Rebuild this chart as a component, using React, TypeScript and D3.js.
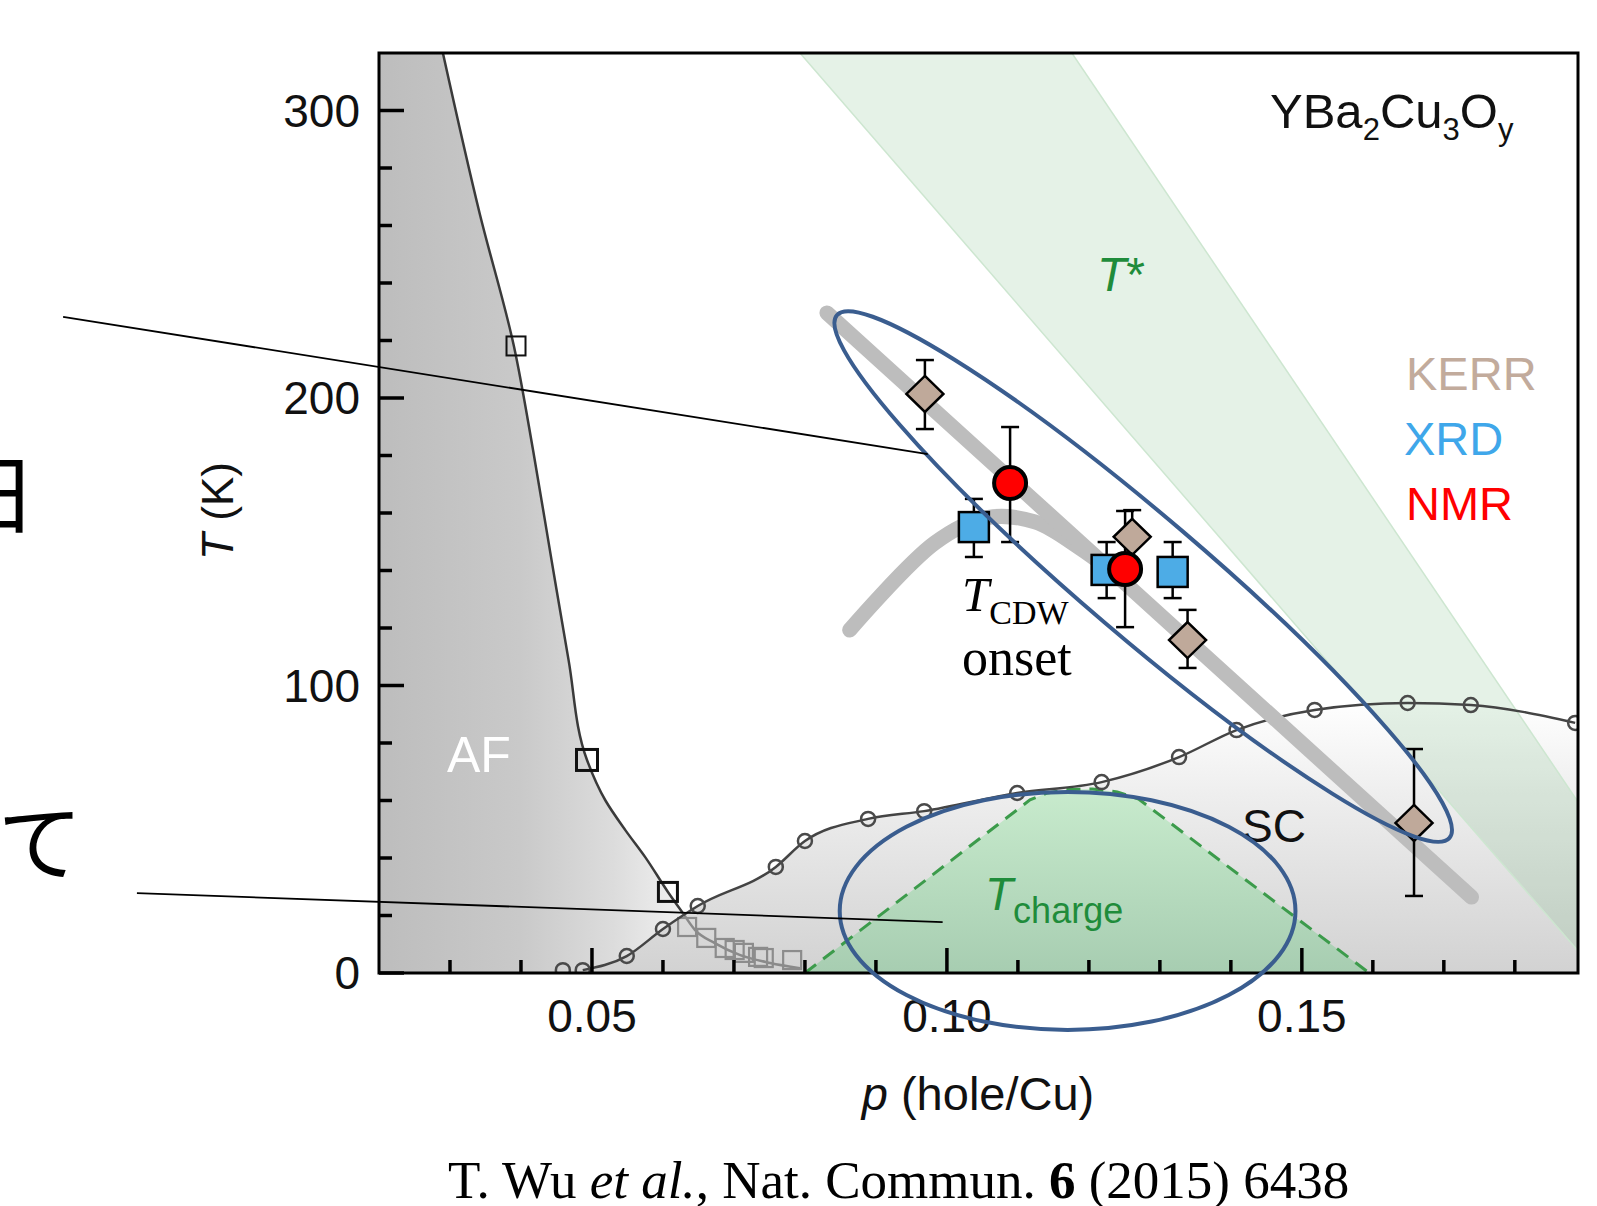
import * as d3 from 'd3';

// ---- values (p in hole/Cu, T in K) ----

// superconducting dome, open circles
const scDoping = [0.0459, 0.0487, 0.0549, 0.06, 0.0649, 0.0759, 0.08, 0.0889, 0.0968, 0.1099, 0.1218, 0.1327, 0.1408, 0.1518, 0.1649, 0.1738, 0.1885];
const scTc = [1.0, 1.0, 5.9, 15.3, 23.3, 36.9, 45.9, 53.6, 56.3, 62.6, 66.4, 75.1, 84.5, 91.5, 93.9, 93.2, 87.0];

// Neel line (black) and its low-T tail (grey)
const afDoping = [0.029, 0.0342, 0.039, 0.0417, 0.0443, 0.0467, 0.0493, 0.0519, 0.0547, 0.0575, 0.0607, 0.0628];
const afTn = [320, 264.0, 218.1, 181.9, 143.7, 108.9, 74.1, 60.0, 49.7, 40.3, 28.2, 20.9];
const afTailDoping = [0.0628, 0.0645, 0.0673, 0.0708, 0.0751, 0.0793];
const afTailT = [20.9, 15.0, 10.4, 6.3, 3.5, 1.7];

const afSquareDoping = [0.0393, 0.0493, 0.0607];
const afSquareT = [218.1, 74.1, 28.2];
const afGreyDoping = [0.0634, 0.0661, 0.0687, 0.0701, 0.0714, 0.0734, 0.0742, 0.0782];
const afGreyT = [16.0, 12.2, 8.7, 8.0, 7.0, 5.6, 5.2, 4.5];

// T_charge dome (dashed green)
const chargeDoping = [0.08, 0.1117, 0.114, 0.117, 0.1205, 0.124, 0.127, 0.1595];
const chargeT = [0, 60.2, 62.5, 63.8, 64.0, 63.0, 60.5, 0];

// T* crossover band
const tStarLowerDoping = [0.0793, 0.1916];
const tStarUpperDoping = [0.1176, 0.2052];
const tStarT = [320, 0];

// T_CDW onset guide lines
const cdwMainDoping = [0.0831, 0.1739];
const cdwMainT = [229.6, 26.4];
const cdwBranchDoping = [0.0863, 0.0983, 0.1054, 0.1124, 0.1187, 0.1244];
const cdwBranchT = [119.3, 149.6, 158.3, 156.9, 147.8, 137.4];

// KERR / XRD / NMR points with error bars
const kerrDoping = [0.0969, 0.1261, 0.1339, 0.1658];
const kerrT = [201.4, 151.7, 115.8, 52.2];
const kerrHi = [213.2, 161.0, 126.3, 77.9];
const kerrLo = [189.2, 142.3, 106.1, 26.8];

const xrdDoping = [0.1038, 0.1225, 0.1318];
const xrdT = [155.1, 140.2, 139.5];
const xrdHi = [164.9, 149.9, 149.9];
const xrdLo = [144.7, 130.4, 130.4];

const nmrDoping = [0.1089, 0.1251];
const nmrT = [170.4, 140.5];
const nmrHi = [189.9, 160.7];
const nmrLo = [149.9, 120.3];

// axes
const yMajor = [0, 100, 200, 300];
const yMajorLabels = ['0', '100', '200', '300'];
const xMajor = [0.05, 0.1, 0.15];
const xMajorLabels = ['0.05', '0.10', '0.15'];

// ---- layout ----
const W = 1597;
const H = 1206;
const x = d3.scaleLinear().domain([0.02, 0.1889]).range([379, 1578]);
const y = d3.scaleLinear().domain([0, 320]).range([973, 53]);
const [x0, x1] = x.range();
const [yb, yt] = y.range();

const SANS = '"Liberation Sans", Arial, Helvetica, sans-serif';
const SERIF = '"Liberation Serif", "Times New Roman", serif';
const CJK = '"Noto Sans CJK JP", sans-serif';
const GREEN = '#1f8c3b';

const zip = (a: number[], b: number[]): [number, number][] => a.map((v, i) => [v, b[i]]);

const lineX = d3.line<[number, number]>().x((d) => x(d[0])).y((d) => y(d[1])).curve(d3.curveMonotoneX);
const lineY = d3.line<[number, number]>().x((d) => x(d[0])).y((d) => y(d[1])).curve(d3.curveMonotoneY);
const lineL = d3.line<[number, number]>().x((d) => x(d[0])).y((d) => y(d[1]));
const lineC = d3.line<[number, number]>().x((d) => x(d[0])).y((d) => y(d[1])).curve(d3.curveCatmullRom);

const ErrorBar = ({p, hi, lo}: {p: number; hi: number; lo: number}) => (
  <g stroke='#000' strokeWidth={2.5}>
    <line x1={x(p)} x2={x(p)} y1={y(hi)} y2={y(lo)} />
    <line x1={x(p) - 9} x2={x(p) + 9} y1={y(hi)} y2={y(hi)} />
    <line x1={x(p) - 9} x2={x(p) + 9} y1={y(lo)} y2={y(lo)} />
  </g>
);

const App = () => {
  const scPts = zip(scDoping, scTc);
  const afEdge = [...zip(afDoping, afTn), ...zip(afTailDoping, afTailT).slice(1)];
  const afFill =
    lineY(afEdge) +
    `L${x(afTailDoping[afTailDoping.length - 1])},${yb}L${x0},${yb}L${x0},${yt}Z`;
  const scFill =
    lineX(scPts) +
    `L${x1},${y(scTc[scTc.length - 1])}L${x1},${yb}L${x(scDoping[0])},${yb}Z`;

  const tStarBand = lineL([
    [tStarLowerDoping[0], tStarT[0]],
    [tStarUpperDoping[0], tStarT[0]],
    [tStarUpperDoping[1], tStarT[1]],
    [tStarLowerDoping[1], tStarT[1]],
  ]) + 'Z';

  // annotation ellipse 1: long axis between two tips, given in data units
  const tipA: [number, number] = [x(0.0845), y(228.8)];
  const tipB: [number, number] = [x(0.1708), y(47.0)];
  const e1cx = (tipA[0] + tipB[0]) / 2;
  const e1cy = (tipA[1] + tipB[1]) / 2;
  const e1rx = Math.hypot(tipB[0] - tipA[0], tipB[1] - tipA[1]) / 2;
  const e1ang = (Math.atan2(tipB[1] - tipA[1], tipB[0] - tipA[0]) * 180) / Math.PI;

  // annotation ellipse 2
  const e2c: [number, number] = [0.117, 21.6];
  const e2rx = x(e2c[0] + 0.0321) - x(e2c[0]);
  const e2ry = y(e2c[1]) - y(e2c[1] + 41.4);

  const minorY = d3.range(20, 320, 20).filter((v) => v % 100 !== 0);
  const minorX = d3.range(3, 19).map((i) => i / 100).filter((v) => Math.abs(v * 20 - Math.round(v * 20)) > 1e-6);

  return (
    <svg width={W} height={H} style={{position: 'fixed', left: 0, top: 0, background: '#fff'}} fontFamily={SANS}>
      <defs>
        <clipPath id='plot'>
          <rect x={x0} y={yt} width={x1 - x0} height={yb - yt} />
        </clipPath>
        <linearGradient id='afGrad' gradientUnits='userSpaceOnUse' x1={x0} x2={x(0.064)} y1={0} y2={0}>
          <stop offset='0' stopColor='#bdbdbd' />
          <stop offset='0.45' stopColor='#c9c9c9' />
          <stop offset='0.75' stopColor='#dcdcdc' />
          <stop offset='1' stopColor='#f3f3f3' />
        </linearGradient>
        <linearGradient id='scGrad' gradientUnits='userSpaceOnUse' x1={0} x2={0} y1={y(95)} y2={yb}>
          <stop offset='0' stopColor='#ffffff' />
          <stop offset='0.35' stopColor='#eeeeee' />
          <stop offset='1' stopColor='#d2d2d2' />
        </linearGradient>
        <linearGradient id='chGrad' gradientUnits='userSpaceOnUse' x1={0} x2={0} y1={y(64)} y2={yb}>
          <stop offset='0' stopColor='#c8ebcd' />
          <stop offset='1' stopColor='#a7cdb1' />
        </linearGradient>
      </defs>

      <g clipPath='url(#plot)'>
        <rect x={x0} y={yt} width={x1 - x0} height={yb - yt} fill='#fff' />
        <path d={afFill} fill='url(#afGrad)' />
        <path d={scFill} fill='url(#scGrad)' />

        {/* T* band */}
        <path d={tStarBand} fill='#5fae6b' fillOpacity={0.16} />
        <path d={lineL(zip(tStarLowerDoping, tStarT))!} fill='none' stroke='#cde6d0' strokeWidth={1.5} />
        <path d={lineL(zip(tStarUpperDoping, tStarT))!} fill='none' stroke='#cde6d0' strokeWidth={1.5} />

        {/* T_charge dome */}
        <path d={lineL(zip(chargeDoping, chargeT))!} fill='url(#chGrad)' />
        <path d={lineL(zip(chargeDoping, chargeT))!} fill='none' stroke='#3c9b4b' strokeWidth={3} strokeDasharray='14 9' />

        {/* AF line and tail */}
        <path d={lineX(zip(afTailDoping, afTailT))!} fill='none' stroke='#8a8a8a' strokeWidth={2.5} />
        {afGreyDoping.map((p, i) => (
          <rect key={i} x={x(p) - 9} y={y(afGreyT[i]) - 9} width={18} height={18} fill='none' stroke='#8c8c8c' strokeWidth={2.2} />
        ))}
        <path d={lineY(zip(afDoping, afTn))!} fill='none' stroke='#3a3a3a' strokeWidth={2.5} />
        {afSquareDoping.map((p, i) => {
          const s = i === 1 ? 21 : 19;
          return (
            <rect key={i} x={x(p) - s / 2} y={y(afSquareT[i]) - s / 2} width={s} height={s} fill='none' stroke='#111' strokeWidth={i === 0 ? 2 : 3} />
          );
        })}

        {/* SC dome */}
        <path d={lineX(scPts.slice(1))!} fill='none' stroke='#444' strokeWidth={2.5} />
        {scPts.map((d, i) => (
          <circle key={i} cx={x(d[0])} cy={y(d[1])} r={7} fill='none' stroke='#4a4a4a' strokeWidth={2.5} />
        ))}

        {/* T_CDW onset guides */}
        <g fill='none' stroke='#bdbdbd' strokeWidth={15} strokeLinecap='round'>
          <path d={lineC(zip(cdwBranchDoping, cdwBranchT))!} />
          <path d={lineL(zip(cdwMainDoping, cdwMainT))!} />
        </g>

        {/* error bars */}
        {xrdDoping.map((p, i) => <ErrorBar key={'xe' + i} p={p} hi={xrdHi[i]} lo={xrdLo[i]} />)}
        {kerrDoping.map((p, i) => <ErrorBar key={'ke' + i} p={p} hi={kerrHi[i]} lo={kerrLo[i]} />)}
        {nmrDoping.map((p, i) => <ErrorBar key={'ne' + i} p={p} hi={nmrHi[i]} lo={nmrLo[i]} />)}

        {/* markers */}
        {xrdDoping.map((p, i) => (
          <rect key={'x' + i} x={x(p) - 15} y={y(xrdT[i]) - 15} width={30} height={30} fill='#4dace6' stroke='#000' strokeWidth={2.5} />
        ))}
        {kerrDoping.map((p, i) => {
          const cx = x(p);
          const cy = y(kerrT[i]);
          return (
            <path key={'k' + i} d={`M${cx},${cy - 18}L${cx + 18.5},${cy}L${cx},${cy + 18}L${cx - 18.5},${cy}Z`} fill='#bfa99a' stroke='#000' strokeWidth={2.5} />
          );
        })}
        {nmrDoping.map((p, i) => (
          <circle key={'n' + i} cx={x(p)} cy={y(nmrT[i])} r={16} fill='#ff0000' stroke='#000' strokeWidth={4} />
        ))}

        {/* in-plot labels */}
        <text x={447} y={772} fontSize={50} fill='#fff'>AF</text>
        <text x={1242} y={842} fontSize={46} fill='#111'>SC</text>
        <text x={985} y={910} fontSize={46} fill={GREEN}>
          <tspan fontStyle='italic'>T</tspan>
          <tspan fontSize={36} dy={13}>charge</tspan>
        </text>
        <text x={1097} y={291} fontSize={48} fill={GREEN}>
          <tspan fontStyle='italic'>T</tspan>*
        </text>
        <text x={962} y={611} fontFamily={SERIF} fontSize={49} fill='#000'>
          <tspan fontStyle='italic'>T</tspan>
          <tspan fontSize={34} dy={13}>CDW</tspan>
        </text>
        <text x={962} y={675} fontFamily={SERIF} fontSize={52} fill='#000'>onset</text>
        <text x={1270} y={128} fontSize={49} fill='#111'>
          YBa<tspan fontSize={31} dy={12}>2</tspan>
          <tspan dy={-12}>Cu</tspan>
          <tspan fontSize={31} dy={12}>3</tspan>
          <tspan dy={-12}>O</tspan>
          <tspan fontSize={31} dy={12}>y</tspan>
        </text>
        <text x={1406} y={390} fontSize={47} fill='#c2ab9c'>KERR</text>
        <text x={1404} y={455} fontSize={47} fill='#3fa7ea'>XRD</text>
        <text x={1406} y={520} fontSize={47} fill='#ff0000'>NMR</text>
      </g>

      {/* frame and ticks */}
      <rect x={x0} y={yt} width={x1 - x0} height={yb - yt} fill='none' stroke='#000' strokeWidth={3} />
      <g stroke='#000' strokeWidth={3.5}>
        {yMajor.map((t) => <line key={'ym' + t} x1={x0} x2={x0 + 25} y1={y(t)} y2={y(t)} />)}
        {minorY.map((t) => <line key={'yn' + t} x1={x0} x2={x0 + 13} y1={y(t)} y2={y(t)} />)}
        {xMajor.map((t) => <line key={'xm' + t} x1={x(t)} x2={x(t)} y1={yb} y2={yb - 25} />)}
        {minorX.map((t) => <line key={'xn' + t} x1={x(t)} x2={x(t)} y1={yb} y2={yb - 13} />)}
      </g>
      {yMajor.map((t, i) => (
        <text key={'yl' + t} x={360} y={y(t) + 16} textAnchor='end' fontSize={46} fill='#111'>{yMajorLabels[i]}</text>
      ))}
      {xMajor.map((t, i) => (
        <text key={'xl' + t} x={x(t)} y={1032} textAnchor='middle' fontSize={46} fill='#111'>{xMajorLabels[i]}</text>
      ))}
      <text transform='translate(233,511) rotate(-90)' textAnchor='middle' fontSize={44} fill='#111'>
        <tspan fontStyle='italic'>T</tspan> (K)
      </text>
      <text x={978} y={1110} textAnchor='middle' fontSize={47} fill='#111'>
        <tspan fontStyle='italic'>p</tspan> (hole/Cu)
      </text>

      {/* annotation overlay */}
      <ellipse cx={e1cx} cy={e1cy} rx={e1rx} ry={60} transform={`rotate(${e1ang} ${e1cx} ${e1cy})`} fill='none' stroke='#3a5d8f' strokeWidth={4} />
      <ellipse cx={x(e2c[0])} cy={y(e2c[1])} rx={e2rx} ry={e2ry} fill='none' stroke='#3a5d8f' strokeWidth={4} />
      <line x1={x(-0.0245)} y1={y(228.2)} x2={x(0.0973)} y2={y(180.5)} stroke='#000' strokeWidth={1.8} />
      <line x1={x(-0.0141)} y1={y(27.8)} x2={x(0.0994)} y2={y(17.7)} stroke='#000' strokeWidth={1.8} />
      <text x={-6} y={527} textAnchor='middle' fontSize={86} fontFamily={CJK} fill='#000'>日</text>
      <text x={40} y={874} textAnchor='middle' fontSize={85} fontFamily={CJK} fill='#000'>て</text>

      <text x={448} y={1198} fontFamily={SERIF} fontSize={53} fill='#000'>
        T. Wu <tspan fontStyle='italic'>et al.</tspan>, Nat. Commun. <tspan fontWeight='bold'>6</tspan> (2015) 6438
      </text>
    </svg>
  );
};

export default App;
